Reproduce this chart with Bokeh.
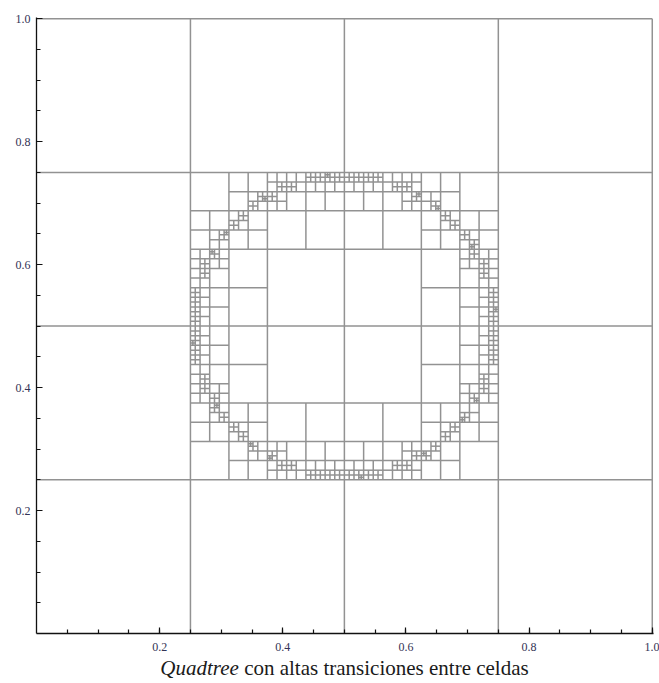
import math
from bokeh.plotting import figure
from bokeh.layouts import column
from bokeh.models import FixedTicker, PrintfTickFormatter, ColumnDataSource, Div
from bokeh.embed import file_html
from bokeh.resources import INLINE

# ---- data ----
domain = [0.0, 0.0, 1.0]            # x0, y0, size of the root cell
circle_center = [0.5, 0.5]          # refinement curve (circle)
circle_radius = 0.245
n_seed_points = 200                 # seed points placed along the circle
seed_phase_deg = 7.3
cell_capacity = 1                   # a cell splits when it holds more seeds than this
max_depth = 9

x_major = [0.2, 0.4, 0.6, 0.8, 1.0]
y_major = [0.2, 0.4, 0.6, 0.8, 1.0]
minor = [0.05, 0.1, 0.15, 0.2, 0.25, 0.3, 0.35, 0.4, 0.45, 0.5,
         0.55, 0.6, 0.65, 0.7, 0.75, 0.8, 0.85, 0.9, 0.95, 1.0]
caption_italic = "Quadtree"
caption_rest = "con altas transiciones entre celdas"

# ---- build the quadtree ----
seeds = []
for k in range(n_seed_points):
    a = math.radians(seed_phase_deg) + 2 * math.pi * k / n_seed_points
    seeds.append((circle_center[0] + circle_radius * math.cos(a),
                  circle_center[1] + circle_radius * math.sin(a)))

splits = []


def build(x0, y0, s, pts, depth):
    if len(pts) > cell_capacity and depth < max_depth:
        splits.append((x0, y0, s))
        h = s / 2
        for qx in (0, 1):
            for qy in (0, 1):
                cx, cy = x0 + qx * h, y0 + qy * h
                sub = [p for p in pts if cx <= p[0] < cx + h and cy <= p[1] < cy + h]
                build(cx, cy, h, sub, depth + 1)


build(domain[0], domain[1], domain[2], seeds, 0)

x0s, y0s, x1s, y1s = [], [], [], []
for (x0, y0, s) in splits:
    h = s / 2
    x0s += [x0, x0 + h]
    y0s += [y0 + h, y0]
    x1s += [x0 + s, x0 + h]
    y1s += [y0 + h, y0 + s]
# domain border (top and right)
x0s += [domain[0], domain[0] + domain[2]]
y0s += [domain[1] + domain[2], domain[1]]
x1s += [domain[0] + domain[2], domain[0] + domain[2]]
y1s += [domain[1] + domain[2], domain[1] + domain[2]]

src = ColumnDataSource(dict(x0=x0s, y0=y0s, x1=x1s, y1=y1s))

p = figure(width=659, height=657, output_backend="svg", toolbar_location=None,
           x_range=(0, 1.002), y_range=(0, 1.002),
           min_border_left=36, min_border_right=6, min_border_top=17, min_border_bottom=24)
p.outline_line_color = None
p.grid.visible = False
p.background_fill_color = "white"
p.border_fill_color = "white"

p.segment(x0="x0", y0="y0", x1="x1", y1="y1", source=src,
          line_color="#929292", line_width=1.5)

for ax, majors in ((p.xaxis[0], x_major), (p.yaxis[0], y_major)):
    ax.ticker = FixedTicker(ticks=majors, minor_ticks=minor)
    ax.formatter = PrintfTickFormatter(format="%.1f")
    ax.axis_line_color = "#111111"
    ax.axis_line_width = 1.3
    ax.major_tick_in = 6
    ax.major_tick_out = 0
    ax.minor_tick_in = 4
    ax.minor_tick_out = 0
    ax.major_tick_line_color = "#111111"
    ax.minor_tick_line_color = "#111111"
    ax.major_tick_line_width = 1.2
    ax.minor_tick_line_width = 1.2
    ax.major_label_text_font = "Liberation Serif"
    ax.major_label_text_font_size = "12px"
    ax.major_label_text_color = "#333355"
p.xaxis[0].major_label_standoff = 9
p.yaxis[0].major_label_standoff = 6

caption_html = (
    "<div style=\"font-family:'Liberation Serif',serif;font-size:21px;line-height:22px;"
    "color:#1a1a1a;text-align:center;width:659px;padding-left:30px;box-sizing:border-box;\">"
    f"<i>{caption_italic}</i> {caption_rest}</div>"
)
caption = Div(text=caption_html, width=659, height=26, margin=(0, 0, 0, 0),
              styles={"background": "white"})

layout = column(p, caption, spacing=0)
open("out.html", "w").write(file_html(layout, INLINE))
